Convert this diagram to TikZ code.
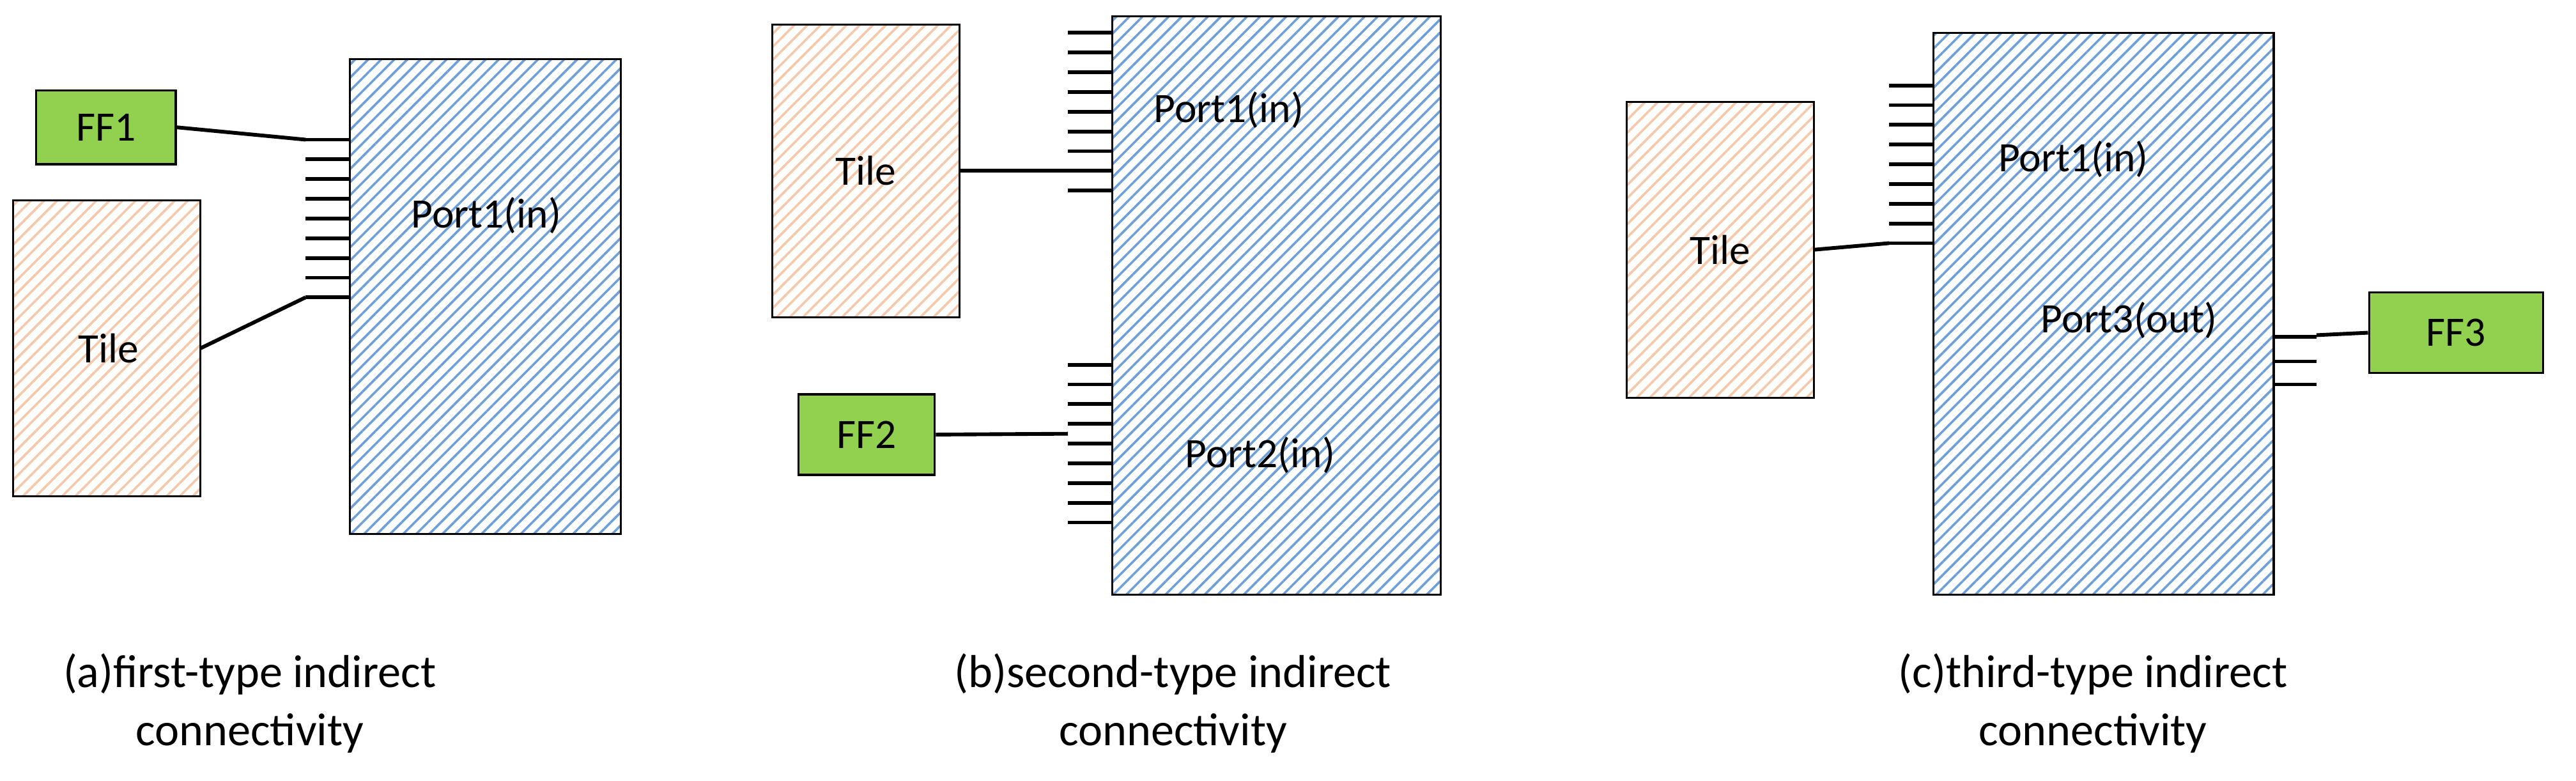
\documentclass[tikz,border=0pt]{standalone}
\usepackage{fontspec}
\setmainfont{Carlito}
\usetikzlibrary{patterns.meta}
\definecolor{hb}{RGB}{110,160,215}
\definecolor{hp}{RGB}{245,200,170}
\definecolor{gr}{RGB}{146,208,80}
\begin{document}
\begin{tikzpicture}[x=0.02cm,y=-0.02cm,font=\fontsize{14.5}{17}\selectfont,
 blue/.style={draw=black,line width=0.7pt,pattern={Lines[angle=45,distance=3.2pt,line width=0.8pt]},pattern color=hb},
 tile/.style={draw=black,line width=0.7pt,pattern={Lines[angle=45,distance=3.2pt,line width=0.8pt]},pattern color=hp},
 ff/.style={draw=black,line width=0.7pt,fill=gr},
 wire/.style={line width=1.3pt},
 captxt/.style={align=center,font=\fontsize{16}{20}\selectfont}]
\useasboundingbox (0,0) rectangle (1568,475);
% (a)
\path[blue] (213,36) rectangle (378,325);
\path[tile] (8,122) rectangle (122,302);
\node[ff,minimum width=85*0.02cm,minimum height=45*0.02cm] (ff1) at (64.5,77.5) {FF1};
\node (t1) at (66,212) {Tile};
\node at (296,131) {Port1(in)};
\foreach \y in {85,97,...,181} \draw[wire] (186,\y) -- (213,\y);
\coordinate (a1) at (186,85); \coordinate (a2) at (186,181);
\coordinate (ta) at (122,212);
\draw[wire] (ff1.east) -- (a1);
\draw[wire] (ta) -- (a2);
\node[captxt] at (152,428) {(a)first-type indirect\\connectivity};
% (b)
\path[tile] (470,15) rectangle (584,193);
\path[blue] (677,10) rectangle (877,362);
\node (t2) at (527,104) {Tile};
\node at (748,67) {Port1(in)};
\node at (767,277) {Port2(in)};
\foreach \y in {20,32,...,117} \draw[wire] (650,\y) -- (677,\y);
\foreach \y in {222,234,...,318} \draw[wire] (650,\y) -- (677,\y);
\node[ff,minimum width=83*0.02cm,minimum height=49*0.02cm] (ff2) at (527.5,264.5) {FF2};
\coordinate (tb) at (584,104); \coordinate (b1) at (650,104); \coordinate (b2) at (650,264);
\draw[wire] (tb) -- (b1);
\draw[wire] (ff2.east) -- (b2);
\node[captxt] at (714,428) {(b)second-type indirect\\connectivity};
% (c)
\path[tile] (990,62) rectangle (1104,242);
\path[blue] (1177,20) rectangle (1384,362);
\node (t3) at (1047,152) {Tile};
\node at (1262,97) {Port1(in)};
\node at (1296,195) {Port3(out)};
\foreach \y in {52,64,...,148} \draw[wire] (1150,\y) -- (1177,\y);
\foreach \y in {205,220,234} \draw[wire] (1384,\y) -- (1410,\y);
\node[ff,minimum width=106*0.02cm,minimum height=49*0.02cm] (ff3) at (1495,202.5) {FF3};
\coordinate (tc) at (1104,152); \coordinate (c1) at (1150,148); \coordinate (c2) at (1410,204);
\draw[wire] (tc) -- (c1);
\draw[wire] (c2) -- (ff3.west);
\node[captxt] at (1274,428) {(c)third-type indirect\\connectivity};
\end{tikzpicture}
\end{document}
